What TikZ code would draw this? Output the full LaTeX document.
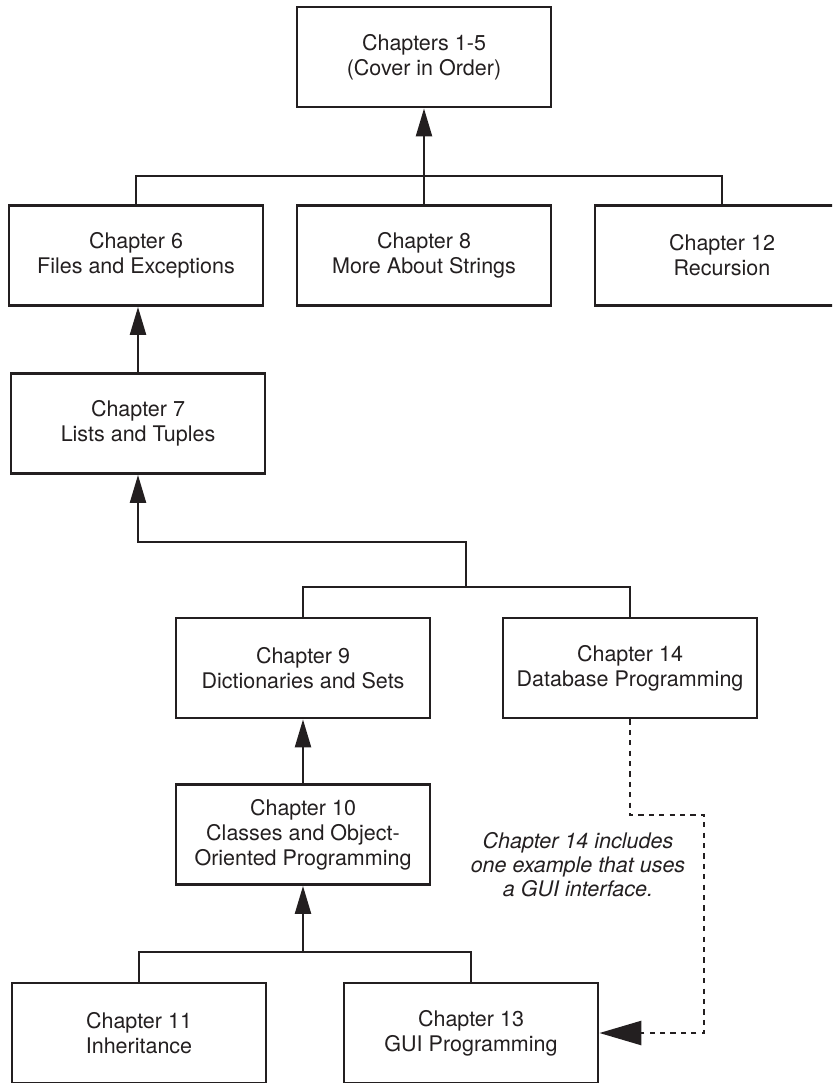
\documentclass[tikz,border=0pt]{standalone}
\usepackage{fontspec}
\setmainfont{TeX Gyre Heros}
\usetikzlibrary{arrows.meta}
\definecolor{ink}{HTML}{231F20}
\tikzset{
  chapbox/.style={draw=ink, line width=1.4pt, minimum width=127pt, minimum height=50pt,
    inner sep=0pt, align=center, text=ink, font=\fontsize{10.75}{12.5}\selectfont},
  link/.style={draw=ink, line width=1.2pt},
  uplink/.style={link, -{Triangle[length=14pt,width=8pt]}},
  guilink/.style={draw=ink, line width=1.3pt, dash pattern=on 2.6pt off 2.6pt,
    -{Triangle[length=21pt,width=12pt]}},
  note/.style={inner sep=0pt, align=center, text=ink, font=\fontsize{10.75}{12}\selectfont\itshape}
}

\begin{document}
\begin{tikzpicture}[x=0.5pt,y=-0.5pt]
    \useasboundingbox (0,0) rectangle (832,1083);
    \clip (0,0) rectangle (832,1083);
    \foreach \name/\x/\y/\txt in {
        c15/424/57/{Chapters 1-5\\(Cover in Order)},
        c6/136/255.5/{Chapter 6\\Files and Exceptions},
        c8/424/255.5/{Chapter 8\\More About Strings},
        c12/722/255.5/{Chapter 12\\Recursion},
        c7/138/423.5/{Chapter 7\\Lists and Tuples},
        c9/303/668/{Chapter 9\\Dictionaries and Sets},
        c14/630/668/{Chapter 14\\Database Programming},
        c10/303/834.5/{Chapter 10\\Classes and Object-\\Oriented Programming},
        c11/139/1033/{Chapter 11\\Inheritance},
        c13/471/1033/{Chapter 13\\GUI Programming}}
        \node[chapbox] (\name) at (\x,\y) {\txt};
    \coordinate (bus1) at (424,176);
    \coordinate (bus2) at (466,587);
    \coordinate (bend) at (466,542);
    \coordinate (bus3) at (303,952);
    \coordinate (d1) at (630,815);
    \coordinate (d2) at (704,815);
    \draw[link] (c6.north) |- (bus1) -| (c12.north);
    \draw[link] (c8.north) -- (bus1);
    \draw[uplink] (bus1) -- (c15.south);
    \draw[uplink] (c7.north) -- (c7.north |- c6.south);
    \draw[link] (c9.north) |- (bus2) -| (c14.north);
    \draw[uplink] (bus2) -- (bend) -| (c7.south);
    \draw[uplink] (c10.north) -- (c9.south);
    \draw[link] (c11.north) |- (bus3) -| (c13.north);
    \draw[uplink] (bus3) -- (c10.south);
    \draw[guilink] (c14.south) -- (d1) -- (d2) |- (c13.east);
    \node[note, anchor=north] (gui) at (578,832)
        {Chapter 14 includes\\one example that uses\\a GUI interface.};
\end{tikzpicture}
\end{document}
